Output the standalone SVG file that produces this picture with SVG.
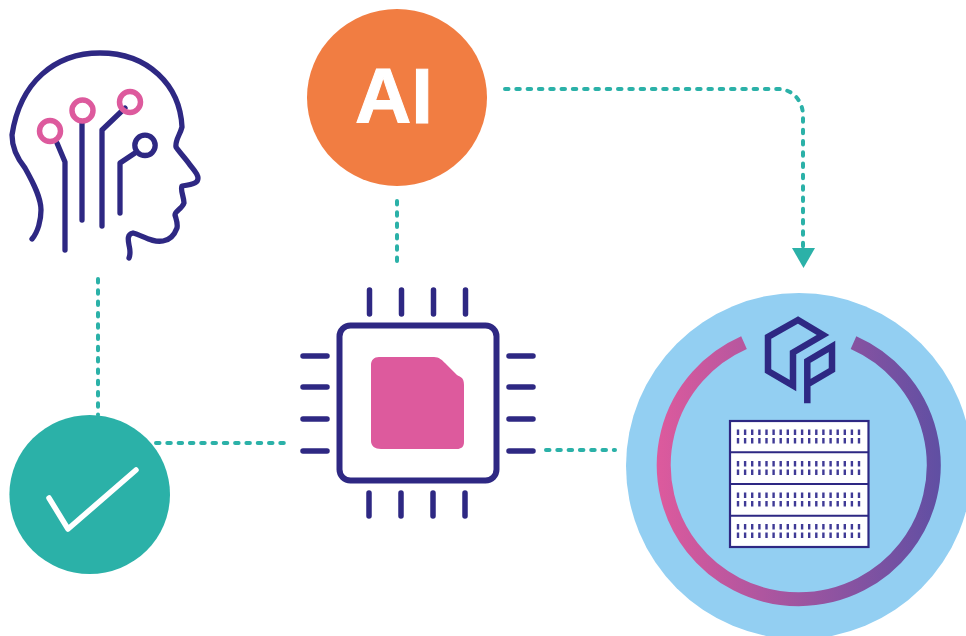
<svg xmlns="http://www.w3.org/2000/svg" width="966" height="636" viewBox="0 0 966 636">
<style>
.navy{fill:none;stroke:#2E2883;stroke-width:5.300;stroke-linecap:round;stroke-linejoin:round}
.pin{fill:none;stroke:#2E2883;stroke-width:5.500;stroke-linecap:round}
.pink{fill:none;stroke:#DD5A9D;stroke-width:5.500}
.link{fill:none;stroke:#2BB1A8;stroke-width:4;stroke-dasharray:3.500 7.800;stroke-linecap:round}
text{font-family:"Liberation Sans",Arial,sans-serif;font-weight:700}
</style>
<defs>
<linearGradient id="ring" gradientUnits="userSpaceOnUse" x1="657" y1="0" x2="942" y2="0">
<stop offset="0" stop-color="#DD5A9D"/><stop offset="1" stop-color="#5F4FA3"/>
</linearGradient>
<path id="dots" fill="#3F3A96" d="M736.800 0h2.400v5.500h-2.400zM743.900 0h2.400v5.500h-2.400zM751 0h2.400v5.500h-2.400zM758.200 0h2.400v5.500h-2.400zM765.300 0h2.400v5.500h-2.400zM772.400 0h2.400v5.500h-2.400zM779.500 0h2.400v5.500h-2.400zM786.600 0h2.400v5.500h-2.400zM793.800 0h2.400v5.500h-2.400zM800.900 0h2.400v5.500h-2.400zM808 0h2.400v5.500h-2.400zM815.100 0h2.400v5.500h-2.400zM822.200 0h2.400v5.500h-2.400zM829.400 0h2.400v5.500h-2.400zM836.500 0h2.400v5.500h-2.400zM843.600 0h2.400v5.500h-2.400zM850.700 0h2.400v5.500h-2.400zM857.800 0h2.400v5.500h-2.400z"/>
</defs>
<g id="connectors">
<path class="link" d="M98 279V415"/>
<path class="link" d="M397 201V268"/>
<path class="link" d="M156 443H290"/>
<path class="link" d="M546 450H615"/>
<path class="link" d="M505 89H778C792 89 803 100 803 116V250"/>
<path d="M792 248H815L803.500 268Z" fill="#2BB1A8"/>
</g>
<g id="head">
<path class="navy" d="M32 239C38 232 41 220 41 210C41 198 34 184 25 168C17 158 12 148 12 135C20 82 55 53 100 53C148 53 180 85 182 127C180 135 175 140 176 147C180 153 186 159 190 165C194 170 198 174 198 178C198 182 196 184 182 186C180 190 184 197 184 203C182 209 175 211 175 215C176 219 178 223 177 228C174 236 170 240 163 241C152 243 142 235 133 233C127 234 128 240 129 245C130 250 131 253 129 258"/>
<path class="navy" d="M57 143L65 162V250"/>
<path class="navy" d="M82 122V220"/>
<path class="navy" d="M125 108L102 130V226"/>
<path class="navy" d="M135 153L120 163V213"/>
<circle class="pink" cx="50" cy="131" r="10.500"/>
<circle class="pink" cx="82.500" cy="110.500" r="10.500"/>
<circle class="pink" cx="130" cy="102" r="10.500"/>
<circle class="navy" cx="145" cy="145.300" r="10.200"/>
</g>
<g id="ai">
<ellipse cx="397" cy="97.500" rx="90" ry="88.500" fill="#F17D42"/>
<text x="355" y="122.500" font-size="78" fill="#fff" stroke="#fff" stroke-width="1">AI</text>
</g>
<g id="check">
<ellipse cx="89.700" cy="494.500" rx="80.300" ry="79.500" fill="#2BB1A8"/>
<path d="M49 498L68 529L136 470" fill="none" stroke="#fff" stroke-width="5.500" stroke-linecap="round" stroke-linejoin="round"/>
</g>
<g id="chip">
<rect x="339.500" y="325.500" width="157" height="155" rx="11" fill="#fff" stroke="#2E2883" stroke-width="6"/>
<path class="pin" d="M369.500 290V314M401.500 290V314M433.500 290V314M465.500 290V314M369 493V516M401 493V516M433 493V516M465 493V516M303 356H327M303 387H327M303 419H327M303 451H327M509 356H533M509 387H533M509 419H533M509 451H533"/>
<path d="M379 357H434C439 357 442 360 445 363L457 375C460 377 464 377 464 385V442C464 447 461 449 457 449H381C375 449 371 446 371 441V365C371 360 374 357 379 357Z" fill="#DD5A9D"/>
</g>
<g id="server">
<circle cx="799" cy="466" r="173" fill="#93CFF2"/>
<path d="M744 342.700A135 134 0 1 0 853.500 342.700" fill="none" stroke="url(#ring)" stroke-width="14"/>
<g fill="none" stroke="#2E2883" stroke-width="6.500">
<path d="M798 320L768 337V371L793 385.500V352.500L823 335Z"/>
<path d="M807.300 403.300V361L832 346.500V370L807.300 384.500"/>
</g>
<rect x="730" y="421" width="138.500" height="126" fill="#fff" stroke="#2E2883" stroke-width="2.200"/>
<path d="M730 452.300H868.500M730 484H868.500M730 515.700H868.500" stroke="#2E2883" stroke-width="2" fill="none"/>
<use href="#dots" y="429.500"/><use href="#dots" y="438"/>
<use href="#dots" y="461"/><use href="#dots" y="469.500"/>
<use href="#dots" y="492.500"/><use href="#dots" y="501"/>
<use href="#dots" y="524"/><use href="#dots" y="532.500"/>
</g>
</svg>
